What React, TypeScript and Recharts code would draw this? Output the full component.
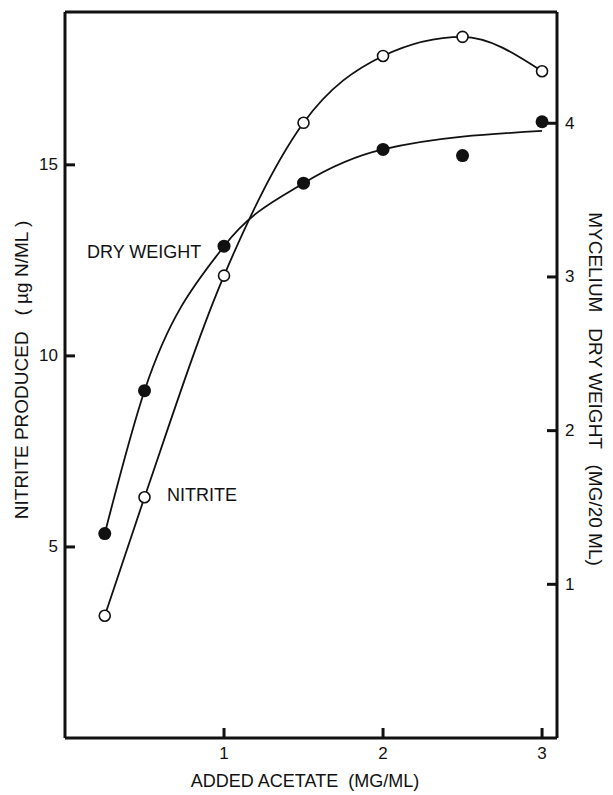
import { ComposedChart, Line, XAxis, YAxis, ReferenceLine, Customized } from "recharts";

// values
const acetate = [0.25, 0.5, 1, 1.5, 2, 2.5, 3];
const nitrite = [3.2, 6.3, 12.1, 16.1, 17.85, 18.35, 17.45];
const dryWeight = [1.33, 2.26, 3.2, 3.61, 3.83, 3.79, 4.01];
// the hand-drawn dry weight curve skips the 2.5 point and ends a bit under the last one
const dryFitAcetate = [0.25, 0.5, 1, 1.5, 2, 3];
const dryFitWeight = [1.33, 2.26, 3.2, 3.61, 3.83, 3.95];

const xTicks = [1, 2, 3];
const nitriteTicks = [5, 10, 15];
const dryTicks = [1, 2, 3, 4];

const nitriteData = acetate.map((x, i) => ({ x, y: nitrite[i] }));
const dryPoints = acetate.map((x, i) => ({ x, y: dryWeight[i] }));
const dryFit = dryFitAcetate.map((x, i) => ({ x, y: dryFitWeight[i] }));

const W = 613;
const H = 795;
const PL = 65;
const PR = 557;
const PT = 12;
const PB = 738;
const FONT = '"Liberation Sans", Arial, Helvetica, sans-serif';
const INK = "#111";
const AXIS_W = 3;

function LeftTick(props: any) {
  const { y, payload } = props;
  return (
    <g>
      <line x1={PL} x2={PL + 10} y1={y} y2={y} stroke={INK} strokeWidth={AXIS_W} />
      <text x={PL - 7} y={y} textAnchor="end" dominantBaseline="central" fontSize={17} fontFamily={FONT} fill={INK}>
        {payload.value}
      </text>
    </g>
  );
}

function RightTick(props: any) {
  const { y, payload } = props;
  return (
    <g>
      <line x1={PR - 10} x2={PR} y1={y} y2={y} stroke={INK} strokeWidth={AXIS_W} />
      <text x={PR + 8} y={y} textAnchor="start" dominantBaseline="central" fontSize={17} fontFamily={FONT} fill={INK}>
        {payload.value}
      </text>
    </g>
  );
}

function BottomTick(props: any) {
  const { x, payload } = props;
  return (
    <g>
      <line x1={x} x2={x} y1={PB - 10} y2={PB} stroke={INK} strokeWidth={AXIS_W} />
      <text x={x} y={PB + 21} textAnchor="middle" fontSize={17} fontFamily={FONT} fill={INK}>
        {payload.value}
      </text>
    </g>
  );
}

const openDot = (p: any) => (
  <circle key={`o${p.index}`} cx={p.cx} cy={p.cy} r={5.5} fill="#fff" stroke={INK} strokeWidth={1.6} />
);
const filledDot = (p: any) => (
  <circle key={`f${p.index}`} cx={p.cx} cy={p.cy} r={6.5} fill={INK} stroke="none" />
);

function Texts() {
  const t = { fontFamily: FONT, fill: INK };
  return (
    <g>
      <text x={87} y={258} fontSize={18} {...t}>DRY WEIGHT</text>
      <text x={167} y={501} fontSize={18} {...t}>NITRITE</text>
      <text x={305} y={787} fontSize={18} textAnchor="middle" {...t} style={{ whiteSpace: "pre" }}>
        {"ADDED ACETATE  (MG/ML)"}
      </text>
      <text
        x={21}
        y={370}
        fontSize={19}
        textAnchor="middle"
        dominantBaseline="central"
        transform="rotate(-90 21 370)"
        style={{ whiteSpace: "pre" }}
        {...t}
      >
        {"NITRITE PRODUCED   ( \u00b5g N/ML )"}
      </text>
      <text
        x={595}
        y={389}
        fontSize={19}
        textAnchor="middle"
        dominantBaseline="central"
        transform="rotate(90 595 389)"
        style={{ whiteSpace: "pre" }}
        {...t}
      >
        {"MYCELIUM   DRY WEIGHT   (MG/20 ML)"}
      </text>
    </g>
  );
}

export default function App() {
  return (
    <div style={{ position: "absolute", left: 0, top: 0, width: W, height: H, background: "#fff" }}>
      <ComposedChart width={W} height={H} margin={{ top: PT, right: 0, bottom: 0, left: 0 }}>
        <XAxis
          type="number"
          dataKey="x"
          domain={[0, 3.094]}
          ticks={xTicks}
          allowDataOverflow
          height={H - PB}
          axisLine={{ stroke: INK, strokeWidth: AXIS_W }}
          tickLine={false}
          tick={<BottomTick />}
        />
        <YAxis
          yAxisId="n"
          type="number"
          domain={[0, 19]}
          ticks={nitriteTicks}
          allowDataOverflow
          width={PL}
          axisLine={{ stroke: INK, strokeWidth: AXIS_W }}
          tickLine={false}
          tick={<LeftTick />}
        />
        <YAxis
          yAxisId="d"
          orientation="right"
          type="number"
          domain={[0, 4.724]}
          ticks={dryTicks}
          allowDataOverflow
          width={W - PR}
          axisLine={{ stroke: INK, strokeWidth: AXIS_W }}
          tickLine={false}
          tick={<RightTick />}
        />
        <ReferenceLine yAxisId="n" y={19} stroke={INK} strokeWidth={AXIS_W} />
        <Line
          yAxisId="d"
          data={dryFit}
          dataKey="y"
          type="monotone"
          stroke={INK}
          strokeWidth={1.8}
          dot={false}
          isAnimationActive={false}
        />
        <Line
          yAxisId="d"
          data={dryPoints}
          dataKey="y"
          stroke="none"
          dot={filledDot}
          activeDot={false}
          isAnimationActive={false}
        />
        <Line
          yAxisId="n"
          data={nitriteData}
          dataKey="y"
          type="monotone"
          stroke={INK}
          strokeWidth={1.8}
          dot={openDot}
          activeDot={false}
          isAnimationActive={false}
        />
        <Customized component={Texts} />
      </ComposedChart>
    </div>
  );
}
